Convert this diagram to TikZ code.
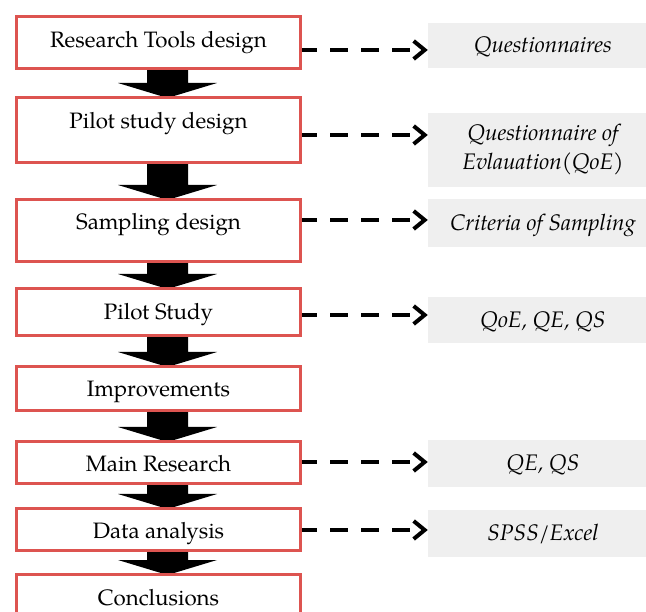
\documentclass[tikz,border=0pt]{standalone}
\usepackage{fontspec}
\setmainfont{TeX Gyre Pagella}
\usetikzlibrary{arrows.meta,calc,backgrounds}
\definecolor{boxred}{RGB}{221,84,80}
\definecolor{boxgray}{RGB}{239,239,239}
\tikzset{
  redbox/.style={draw=boxred, line width=3pt, minimum width=284pt, inner sep=0pt,
    text height=16pt, text depth=0.6pt, font=\fontsize{22.3}{27}\selectfont},
  graybox/.style={fill=boxgray, minimum width=230pt, inner sep=0pt,
    text height=14.8pt, text depth=0.6pt, align=center,
    font=\fontsize{22.5}{29}\selectfont\itshape},
  dasharrow/.style={line width=4pt, dash pattern=on 18pt off 13pt, dash phase=3pt,
    -{Straight Barb[length=11pt,width=18pt]}},
  blockarrow/.style={fill=black}
}
\newcommand\blockarr[2]{%
  \fill[blockarrow] let \p1=(#1.south), \p2=(#2.north) in
    (\x1-11.5pt,\y1) -- (\x1+29.5pt,\y1) -- (\x1+29.5pt,\y2+13pt) --
    (\x1+58.5pt,\y2+13pt) -- (\x1+9pt,\y2-2pt) -- (\x1-40.5pt,\y2+13pt) --
    (\x1-11.5pt,\y2+13pt) -- cycle;}
\begin{document}
\begin{tikzpicture}[x=1pt,y=-1pt]
\useasboundingbox (0,0) rectangle (646,612);
\clip (0,0) rectangle (646,612);
% process boxes
\node[redbox, minimum height=52pt] (b1) at (158.5,42.5) {\raisebox{3pt}{Research Tools design}};
\node[redbox, minimum height=65pt] (b2) at (158.5,130) {\raisebox{9pt}{Pilot study design}};
\node[redbox, minimum height=62pt] (b3) at (158.5,230.5) {\raisebox{9pt}{Sampling design}};
\node[redbox, minimum height=47pt] (b4) at (158.5,312) {Pilot Study};
\node[redbox, minimum height=44pt] (b5) at (158.5,388.5) {Improvements};
\node[redbox, minimum height=42pt] (b6) at (158.5,462.5) {\raisebox{-1.5pt}{Main Research}};
\node[redbox, minimum height=42pt] (b7) at (158.5,529.5) {\raisebox{-1.5pt}{Data analysis}};
\node[redbox, minimum height=53pt] (b8) at (158.5,601) {\raisebox{3pt}{Conclusions}};
% tool boxes
\node[graybox, minimum height=45pt] (g1) at (543,45.5) {Questionnaires};
\node[graybox, minimum height=74pt, text height=, text depth=] (g2) at (543,150) {Questionnaire of\\Evlauation(QoE)};
\node[graybox, minimum height=48pt] (g3) at (543,223) {Criteria of Sampling};
\node[graybox, minimum height=46pt] (g4) at (543,320) {QoE, QE, QS};
\node[graybox, minimum height=47pt] (g5) at (543,463.5) {QE, QS};
\node[graybox, minimum height=47pt] (g6) at (543,533.5) {SPSS/Excel};
% dashed connectors
\draw[dasharrow] (b1.east |- 0,50) -- (g1.west |- 0,50);
\draw[dasharrow] (b2.east |- 0,135) -- (g2.west |- 0,135);
\draw[dasharrow] (b3.east |- 0,220) -- (g3.west |- 0,220);
\draw[dasharrow] (b4.east |- 0,315) -- (g4.west |- 0,315);
\draw[dasharrow] (b6.east |- 0,462) -- (g5.west |- 0,462);
\draw[dasharrow] (b7.east |- 0,530) -- (g6.west |- 0,530);
% block arrows
\begin{pgfonlayer}{background}
\blockarr{b1}{b2}
\blockarr{b2}{b3}
\blockarr{b3}{b4}
\blockarr{b4}{b5}
\blockarr{b5}{b6}
\blockarr{b6}{b7}
\blockarr{b7}{b8}
\end{pgfonlayer}
\end{tikzpicture}
\end{document}
